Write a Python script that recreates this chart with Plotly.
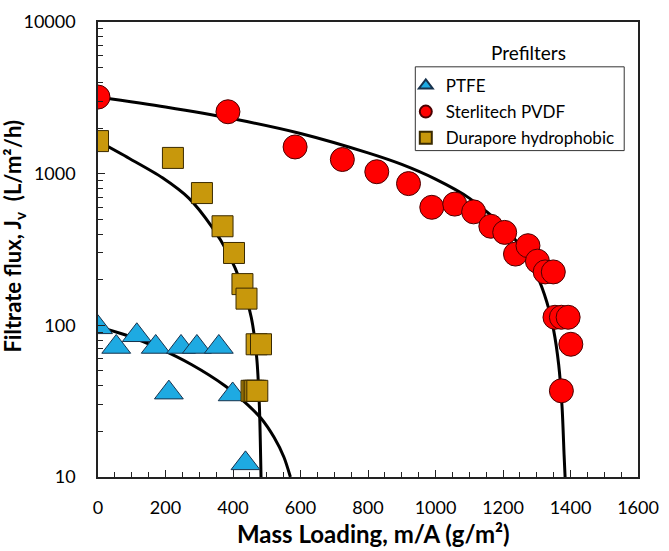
import plotly.graph_objects as go

# ---------------- data ----------------
ptfe_x = [0, 54, 115, 171, 246, 293, 358, 210, 399, 437]
ptfe_y = [97, 72, 86, 72, 72, 72, 72, 36, 35, 12.3]

pvdf_x = [0, 385, 584, 724, 826, 920, 989, 1057, 1113, 1164, 1205, 1237, 1274,
          1302, 1325, 1349, 1354, 1373, 1393, 1401, 1373]
pvdf_y = [3200, 2560, 1500, 1240, 1030, 860, 600, 630, 560, 450, 410, 295, 335,
          265, 225, 225, 113, 113, 113, 75, 37]

dura_x = [0, 222, 308, 369, 403, 428, 440, 470, 483, 455, 461, 466, 472]
dura_y = [1640, 1270, 745, 450, 300, 187, 150, 75, 75, 37, 37, 37, 37]

# fitted model curves
fit_ptfe_x = [0, 84, 181, 278, 376, 434, 483, 522, 551, 570]
fit_ptfe_y = [98, 86, 70.5, 55, 40, 31.3, 24.4, 18.2, 13.5, 10]

fit_pvdf_x = [0, 200, 400, 600, 800, 900, 1000, 1100, 1200, 1250, 1300, 1330, 1350, 1365, 1375, 1381, 1384]
fit_pvdf_y = [3200, 2750, 2300, 1840, 1370, 1150, 920, 690, 450, 335, 215, 142, 93, 55, 29, 14, 10]

fit_dura_x = [0, 93, 191, 269, 337, 385, 424, 454, 470, 478, 483]
fit_dura_y = [1640, 1260, 940, 690, 448, 300, 190, 113, 62, 30, 10]

x_ticks = [0, 200, 400, 600, 800, 1000, 1200, 1400, 1600]
y_ticks = [10, 100, 1000, 10000]
y_minor = [m * d for d in (10, 100, 1000) for m in range(2, 10)]

names = ["PTFE", "Sterlitech PVDF", "Durapore hydrophobic"]

FONT = "Lato"

fig = go.Figure()

for fx, fy in [(fit_ptfe_x, fit_ptfe_y), (fit_pvdf_x, fit_pvdf_y), (fit_dura_x, fit_dura_y)]:
    fig.add_trace(go.Scatter(x=fx, y=fy, mode="lines",
                             line=dict(color="black", width=3, shape="spline", smoothing=0.8),
                             showlegend=False, hoverinfo="skip"))

fig.add_trace(go.Scatter(x=ptfe_x, y=ptfe_y, mode="markers", name=names[0], legendgroup="a",
                         marker=dict(symbol="triangle-up", size=25, color="#1EAAE2",
                                     line=dict(color="#17324d", width=1))))
fig.add_trace(go.Scatter(x=pvdf_x, y=pvdf_y, mode="markers", name=names[1], legendgroup="b",
                         marker=dict(symbol="circle", size=24, color="#FF0000",
                                     line=dict(color="#4a0000", width=1))))
fig.add_trace(go.Scatter(x=dura_x, y=dura_y, mode="markers", name=names[2], legendgroup="c",
                         marker=dict(symbol="square", size=21, color="#C8980C",
                                     line=dict(color="#3a2a00", width=1))))

fig.update_layout(
    width=669, height=551,
    margin=dict(l=98, r=23, t=10, b=74),
    paper_bgcolor="white", plot_bgcolor="white",
    font=dict(family=FONT, color="black"),
    showlegend=True,
    legend=dict(x=0.57, y=0.899, xanchor="left", yanchor="top",
                bgcolor="rgba(0,0,0,0)", borderwidth=0,
                font=dict(family=FONT, size=17, color="black"),
                itemsizing="constant", tracegroupgap=1, traceorder="grouped"),
    xaxis=dict(range=[0, 1600], tickvals=x_ticks, ticks="inside", ticklen=7, tickwidth=1.2,
               tickcolor="#222", showline=True, linecolor="#222", linewidth=1.5, mirror=True,
               showgrid=False, zeroline=False, ticklabelstandoff=14,
               tickfont=dict(family=FONT, size=18, color="black"),
               minor=dict(dtick=50, ticks="inside", ticklen=5, tickcolor="#222", tickwidth=1.2, showgrid=False)),
    yaxis=dict(type="log", range=[1, 4], tickvals=y_ticks, ticktext=[str(v) for v in y_ticks],
               ticks="inside", ticklen=7, tickwidth=1.2, tickcolor="#222",
               showline=True, linecolor="#222", linewidth=1.5, mirror=True,
               showgrid=False, zeroline=False, ticklabelstandoff=17,
               tickfont=dict(family=FONT, size=18, color="black"),
               minor=dict(tickvals=y_minor, ticks="inside", ticklen=5, tickcolor="#222", tickwidth=1.2, showgrid=False)),
    shapes=[dict(type="rect", xref="paper", yref="paper",
                 x0=(420 - 98) / 548, x1=(632 - 98) / 548,
                 y0=(477 - 142) / 467, y1=(477 - 56) / 467,
                 line=dict(color="#333", width=1), fillcolor="rgba(0,0,0,0)")],
    annotations=[
        dict(text="Prefilters", xref="paper", yref="paper", x=(535 - 98) / 548, y=(477 - 41) / 467,
             xanchor="center", yanchor="middle", showarrow=False,
             font=dict(family=FONT, size=19, color="black")),
        dict(text="<b>Mass Loading, m/A (g/m²)</b>", xref="paper", yref="paper",
             x=(378 - 98) / 548, y=(477 - 535) / 467, xanchor="center", yanchor="middle",
             showarrow=False, font=dict(family=FONT, size=24, color="black")),
        dict(text="<b>Filtrate flux, J<sub>v</sub>  (L/m²/h)</b>", xref="paper", yref="paper",
             x=(13 - 98) / 548, y=(477 - 230) / 467, xanchor="center", yanchor="middle",
             showarrow=False, textangle=-90,
             font=dict(family=FONT, size=22, color="black")),
    ],
)

fig.write_html("out.html")
